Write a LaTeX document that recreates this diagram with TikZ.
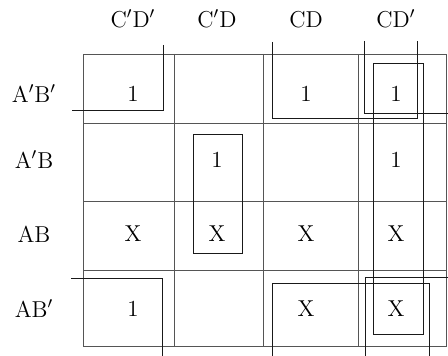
\documentclass[tikz,border=0pt]{standalone}
\begin{document}
\begin{tikzpicture}[x=0.5pt,y=-0.5pt,
  gridline/.style={draw={rgb,255:red,85;green,85;blue,85},line width=0.45pt},
  loopline/.style={draw={rgb,255:red,25;green,25;blue,25},line width=0.45pt},
  lbl/.style={inner sep=0pt,anchor=base,font=\fontsize{11.5}{13}\selectfont},
]
\useasboundingbox (0,0) rectangle (448,356);
% grid
\draw[gridline] (83,54) rectangle (446,346);
\foreach \x in {174,263,358} \draw[gridline] (\x,54) -- (\x,346);
\foreach \y in {123,201,270} \draw[gridline] (83,\y) -- (446,\y);
% column labels
\node[lbl] (c1) at (133,27.5) {C$'$D$'$};
\node[lbl] (c2) at (217,27.5) {C$'$D};
\node[lbl] (c3) at (306,27.5) {CD};
\node[lbl] (c4) at (396,27.5) {CD$'$};
% row labels
\node[lbl] (r1) at (34,102.5) {A$'$B$'$};
\node[lbl] (r2) at (34,168.5) {A$'$B};
\node[lbl] (r3) at (34,242.5) {AB};
\node[lbl] (r4) at (34,317.5) {AB$'$};
% cells
\node[lbl] (v11) at (133,102) {1};
\node[lbl] (v13) at (306,102) {1};
\node[lbl] (v14) at (396,102) {1};
\node[lbl] (v22) at (217,168) {1};
\node[lbl] (v24) at (396,168) {1};
\node[lbl] (v31) at (133,242) {X};
\node[lbl] (v32) at (217,242) {X};
\node[lbl] (v33) at (306,242) {X};
\node[lbl] (v34) at (396,242) {X};
\node[lbl] (v41) at (133,317) {1};
\node[lbl] (v43) at (306,317) {X};
\node[lbl] (v44) at (396,317) {X};
% groupings
\draw[loopline] (163,45) -- (163,110) -- (72,110);
\draw[loopline] (71,278) -- (162,278) -- (162,356);
\draw[loopline] (272,42) -- (272,118) -- (417,118) -- (417,41);
\draw[loopline] (364,41) -- (364,113) -- (448,113);
\draw[loopline] (448,277) -- (365,277) -- (365,356);
\draw[loopline] (272,356) -- (272,283) -- (429,283) -- (429,356);
\draw[loopline] (193,134) rectangle (242,253);
\draw[loopline] (373,63) rectangle (423,334);
\end{tikzpicture}
\end{document}
